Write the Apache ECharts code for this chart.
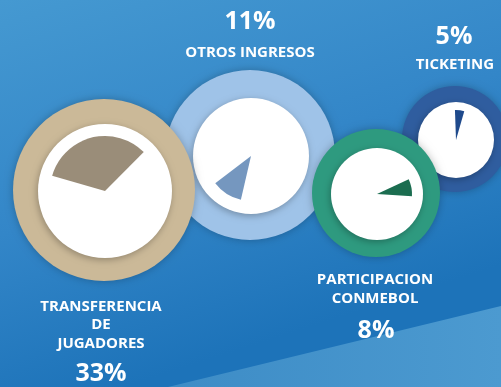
<!DOCTYPE html>
<html>
<head>
<meta charset="utf-8">
<script src="https://cdn.jsdelivr.net/npm/echarts@6/dist/echarts.min.js"></script>
<style>
  html, body { margin: 0; padding: 0; }
  #chart { width: 501px; height: 387px; }
</style>
</head>
<body>
<div id="chart"></div>
<script>
// Income sources and their share of the total (%)
const categories = ['TRANSFERENCIA\nDE\nJUGADORES', 'OTROS INGRESOS', 'PARTICIPACION\nCONMEBOL', 'TICKETING'];
const values = [33, 11, 8, 5];

// Per-circle styling: ring colour, slice colour, geometry and label placement
const ringColors = ['#cbb998', '#9fc3e8', '#2e9a7f', '#2f5d9f'];
const sliceColors = ['#9a8d79', '#7597bf', '#1b6d50', '#1f4a8c'];
const centers = [[104, 190], [250, 155], [376, 193], [455, 139]];
const outerR = [91, 85, 64, 53];
const innerR = [67, 58, 46, 38];
const sliceR = [55, 45, 35, 30];
const startAngles = [164, 257, 25, 92];
// Draw order (back to front)
const drawOrder = [3, 1, 0, 2];

const FONT = '"Open Sans", "Noto Sans", sans-serif';

const series = [];
drawOrder.forEach(function (i) {
  series.push({
    type: 'pie', silent: true,
    center: centers[i], radius: [0, outerR[i]],
    label: { show: false }, labelLine: { show: false },
    itemStyle: { color: ringColors[i], shadowBlur: 8, shadowColor: 'rgba(0,0,0,0.25)' },
    data: [{ value: 1, name: 'ring' + i }]
  });
  series.push({
    type: 'pie', silent: true,
    center: [centers[i][0] + 1, centers[i][1] + 1], radius: [0, innerR[i]],
    label: { show: false }, labelLine: { show: false },
    itemStyle: { color: '#ffffff', shadowBlur: 7, shadowOffsetX: -1, shadowOffsetY: 2, shadowColor: 'rgba(0,0,0,0.28)' },
    data: [{ value: 1, name: 'disc' + i }]
  });
  series.push({
    type: 'pie', silent: true,
    center: [centers[i][0] + 1, centers[i][1] + 1], radius: [0, sliceR[i]],
    startAngle: startAngles[i], clockwise: true,
    label: { show: false }, labelLine: { show: false },
    data: [
      { value: values[i], name: categories[i], itemStyle: { color: sliceColors[i] } },
      { value: 100 - values[i], name: 'rest' + i, itemStyle: { color: 'rgba(0,0,0,0)' } }
    ]
  });
});

// Text placement for the names and the percentages
const nameLayout = [
  { x: 101, y: 297, lh: 18.5 },
  { x: 250, y: 44, lh: 18 },
  { x: 375, y: 270, lh: 19 },
  { x: 455, y: 56, lh: 18 }
];
const valueLayout = [
  { x: 101, y: 374 },
  { x: 250, y: 22 },
  { x: 376, y: 331 },
  { x: 454, y: 37 }
];

const graphics = [
  {
    type: 'polygon', z: -1, silent: true,
    shape: { points: [[168, 387], [501, 306], [501, 387]] },
    style: {
      fill: { type: 'linear', x: 0, y: 0, x2: 1, y2: 0, colorStops: [
        { offset: 0, color: '#3d8cc6' }, { offset: 1, color: '#4c9ad0' }
      ] }
    }
  }
];
categories.forEach(function (c, i) {
  graphics.push({
    type: 'text', z: 10, silent: true,
    x: nameLayout[i].x, y: nameLayout[i].y,
    style: {
      text: c, fill: '#ffffff', font: 'bold 15px ' + FONT,
      align: 'center', verticalAlign: 'top', lineHeight: nameLayout[i].lh
    }
  });
  graphics.push({
    type: 'text', z: 10, silent: true,
    x: valueLayout[i].x, y: valueLayout[i].y,
    style: {
      text: values[i] + '%', fill: '#ffffff', font: 'bold 25px ' + FONT,
      align: 'center', verticalAlign: 'middle'
    }
  });
});

const chart = echarts.init(document.getElementById('chart'), null, { renderer: 'canvas' });
chart.setOption({
  animation: false,
  backgroundColor: {
    type: 'linear', x: 0, y: 0, x2: 0.25, y2: 1, colorStops: [
      { offset: 0, color: '#4599d1' },
      { offset: 0.55, color: '#3386c8' },
      { offset: 1, color: '#1d73b9' }
    ]
  },
  series: series,
  graphic: graphics
});
</script>
</body>
</html>
